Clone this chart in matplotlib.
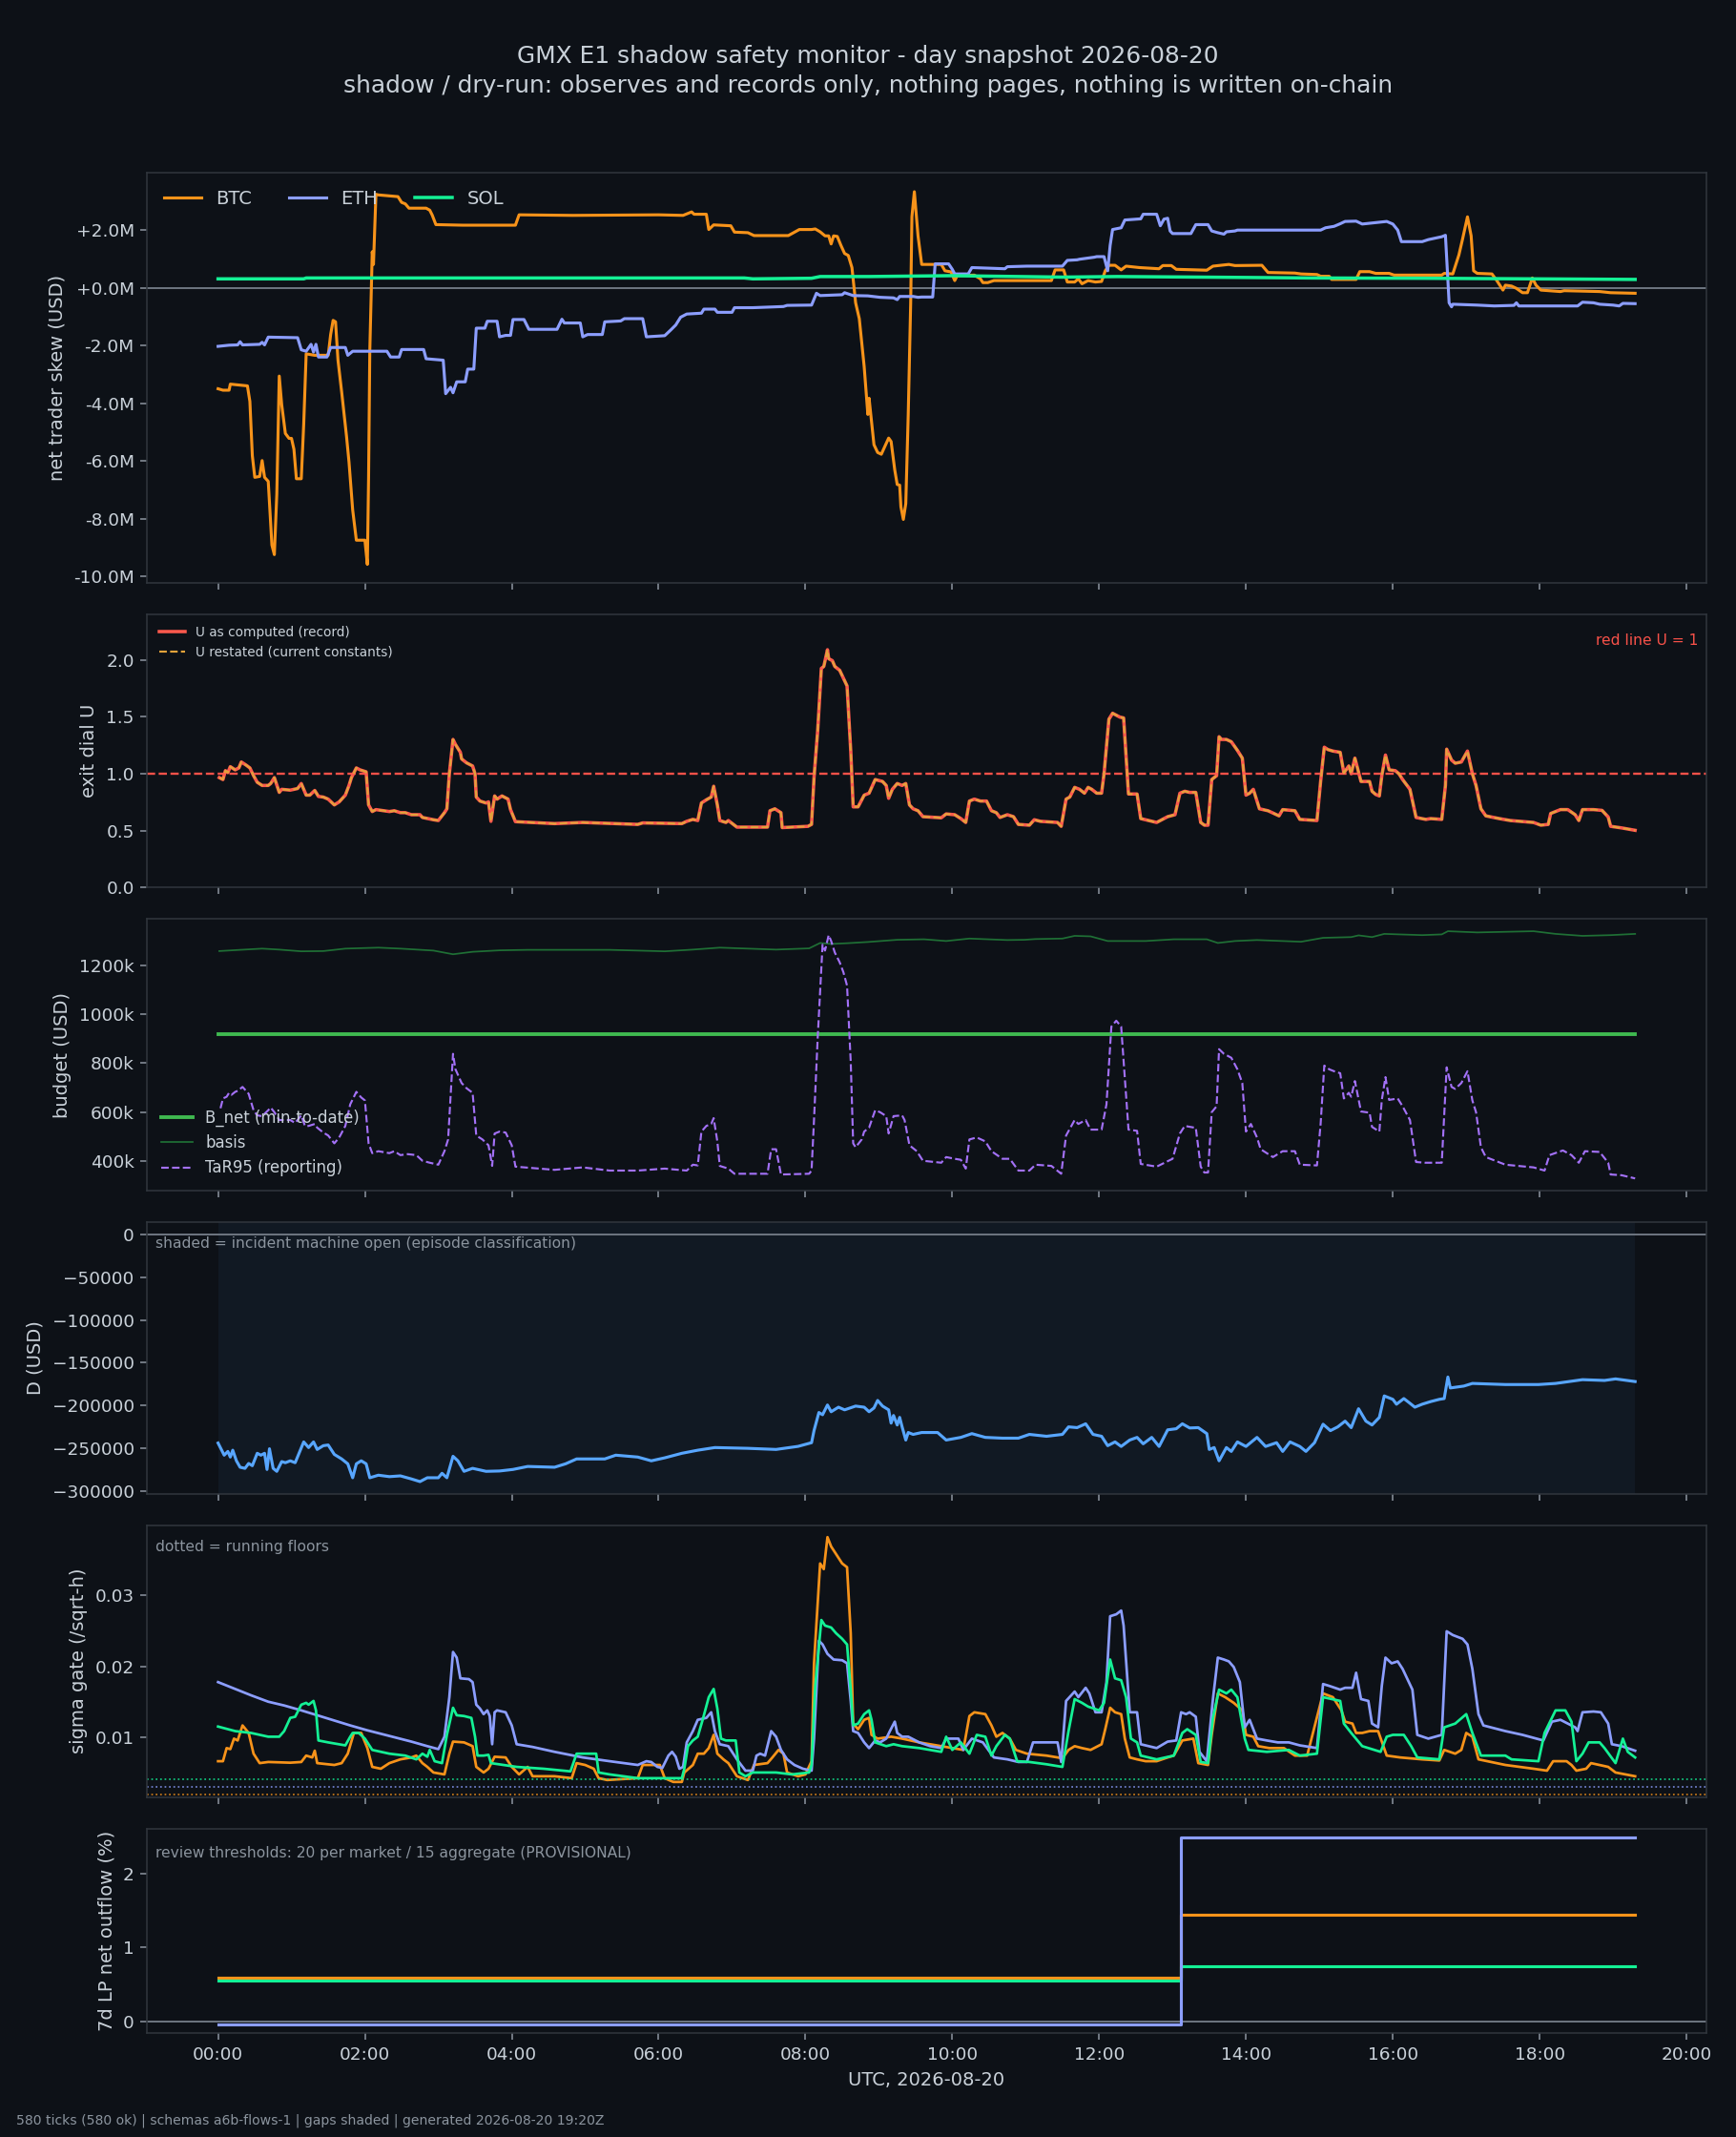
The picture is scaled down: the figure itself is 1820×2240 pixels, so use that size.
import matplotlib
matplotlib.use("Agg")
import matplotlib.pyplot as plt
from matplotlib.ticker import FuncFormatter, MultipleLocator

# colours (dark dashboard palette)
BG = "#0d1117"
FG = "#c9d1d9"
MUTED = "#8b949e"
EDGE = "#30363d"
C_BTC = "#f7931a"
C_ETH = "#8c9eff"
C_SOL = "#14f195"

# net trader skew, $M
skew_btc = [(0, -3.50), (4, -3.55), (9, -3.55), (10, -3.34), (24, -3.40), (26, -3.94), (28, -5.82), (30, -6.57),
            (34, -6.54), (36, -5.99), (38, -6.57), (41, -6.71), (44, -8.92), (46, -9.25), (48, -7.15), (50, -3.06),
            (52, -4.05), (55, -5.05), (58, -5.22), (60, -5.22), (62, -5.6), (64, -6.62), (68, -6.62), (70, -4.72),
            (72, -2.29), (79, -2.34), (90, -2.34), (92, -1.62), (94, -1.13), (96, -1.18), (98, -2.51), (101, -3.61),
            (105, -5.16), (107, -6.04), (110, -7.7), (113, -8.75), (120, -8.75), (122, -9.59), (123, -6.6),
            (124, -2.18), (126, 1.25), (127, 0.81), (129, 3.24), (131, 3.22), (147, 3.16), (150, 2.96), (153, 2.91),
            (156, 2.76), (170, 2.76), (173, 2.69), (175, 2.52), (178, 2.19), (200, 2.17), (243, 2.17), (246, 2.53),
            (290, 2.51), (360, 2.53), (380, 2.51), (387, 2.63), (389, 2.55), (399, 2.55), (401, 2.02), (405, 2.18),
            (419, 2.15), (422, 1.93), (433, 1.91), (438, 1.81), (466, 1.81), (469, 1.88), (475, 2.02), (485, 2.02),
            (488, 2.04), (492, 1.94), (496, 1.8), (499, 1.8), (501, 1.52), (503, 1.8), (506, 1.78), (509, 1.47),
            (512, 1.19), (515, 1.12), (518, 0.70), (521, -0.52), (524, -1.07), (528, -2.73), (531, -4.39),
            (532, -3.83), (536, -5.44), (539, -5.71), (542, -5.77), (545, -5.49), (548, -5.21), (550, -5.33),
            (553, -6.32), (555, -6.82), (557, -6.84), (558, -7.59), (560, -8.03), (562, -7.48), (564, -4.39),
            (566, -0.52), (567, 2.46), (569, 3.33), (572, 1.80), (575, 0.81), (591, 0.81), (594, 0.59), (599, 0.55),
            (602, 0.25), (604, 0.42), (618, 0.44), (623, 0.31), (625, 0.18), (629, 0.18), (634, 0.25), (681, 0.25),
            (684, 0.62), (691, 0.62), (694, 0.20), (700, 0.20), (703, 0.31), (706, 0.14), (711, 0.25), (717, 0.20),
            (722, 0.22), (725, 0.59), (728, 0.78), (733, 0.78), (738, 0.62), (742, 0.75), (753, 0.70), (769, 0.66),
            (772, 0.77), (779, 0.77), (783, 0.64), (808, 0.61), (813, 0.75), (826, 0.81), (831, 0.77), (853, 0.78),
            (858, 0.53), (880, 0.51), (885, 0.48), (898, 0.46), (901, 0.40), (908, 0.40), (910, 0.29), (930, 0.29),
            (933, 0.56), (941, 0.56), (946, 0.50), (957, 0.50), (961, 0.44), (1000, 0.44), (1002, 0.50),
            (1009, 0.48), (1014, 1.14), (1017, 1.69), (1021, 2.46), (1024, 1.80), (1026, 0.59), (1029, 0.50),
            (1041, 0.48), (1045, 0.25), (1050, -0.08), (1052, 0.09), (1057, 0.06), (1061, -0.02), (1066, -0.17),
            (1070, -0.17), (1074, 0.34), (1077, 0.09), (1081, -0.08), (1097, -0.13), (1100, -0.10), (1129, -0.13),
            (1138, -0.17), (1158, -0.19)]

skew_eth = [(0, -2.03), (9, -1.99), (16, -1.98), (18, -1.87), (20, -1.98), (34, -1.96), (36, -1.89), (38, -1.98),
            (41, -1.71), (65, -1.73), (68, -2.15), (72, -2.20), (76, -1.96), (78, -2.23), (80, -1.96), (82, -2.40),
            (89, -2.40), (92, -2.07), (104, -2.07), (106, -2.34), (110, -2.20), (138, -2.20), (141, -2.40),
            (148, -2.40), (150, -2.14), (168, -2.14), (170, -2.46), (178, -2.49), (184, -2.51), (186, -3.67),
            (190, -3.45), (192, -3.64), (195, -3.26), (202, -3.26), (204, -2.82), (209, -2.82), (211, -1.40),
            (218, -1.40), (220, -1.16), (228, -1.16), (230, -1.70), (235, -1.65), (239, -1.65), (241, -1.10),
            (250, -1.10), (254, -1.44), (277, -1.44), (281, -1.09), (283, -1.22), (296, -1.22), (298, -1.70),
            (302, -1.62), (314, -1.62), (316, -1.18), (329, -1.15), (332, -1.07), (347, -1.07), (350, -1.70),
            (365, -1.66), (370, -1.46), (374, -1.29), (378, -1.02), (383, -0.91), (395, -0.88), (397, -0.74),
            (406, -0.74), (408, -0.85), (420, -0.85), (422, -0.69), (437, -0.69), (462, -0.65), (465, -0.61),
            (485, -0.60), (489, -0.19), (492, -0.27), (510, -0.24), (512, -0.17), (519, -0.27), (531, -0.28),
            (541, -0.33), (552, -0.35), (555, -0.41), (557, -0.30), (568, -0.30), (572, -0.33), (575, -0.32),
            (584, -0.32), (586, 0.83), (597, 0.83), (600, 0.64), (602, 0.48), (613, 0.48), (616, 0.70), (643, 0.66),
            (645, 0.73), (661, 0.75), (690, 0.75), (694, 0.95), (702, 0.97), (704, 0.99), (716, 1.06), (718, 1.08),
            (724, 1.08), (727, 0.59), (729, 1.47), (731, 2.02), (738, 2.08), (741, 2.35), (754, 2.39), (756, 2.55),
            (767, 2.55), (770, 2.15), (773, 2.38), (776, 2.41), (778, 1.97), (780, 1.88), (795, 1.88), (799, 2.19),
            (809, 2.19), (812, 1.97), (817, 1.91), (822, 1.86), (824, 1.94), (831, 1.97), (833, 2.00), (901, 2.00),
            (905, 2.08), (912, 2.13), (917, 2.22), (921, 2.30), (930, 2.31), (935, 2.21), (955, 2.30), (960, 2.21),
            (964, 2.00), (967, 1.60), (984, 1.60), (989, 1.67), (1000, 1.77), (1003, 1.82), (1005, 0.25),
            (1006, -0.52), (1008, -0.66), (1009, -0.57), (1029, -0.60), (1043, -0.63), (1059, -0.61), (1061, -0.52),
            (1063, -0.63), (1111, -0.63), (1115, -0.50), (1124, -0.52), (1129, -0.57), (1140, -0.60), (1145, -0.63),
            (1148, -0.54), (1158, -0.55)]

skew_sol = [(0, 0.31), (70, 0.31), (72, 0.34), (430, 0.34), (437, 0.31), (485, 0.33), (492, 0.39), (532, 0.39),
            (600, 0.42), (690, 0.37), (735, 0.39), (803, 0.37), (894, 0.34), (984, 0.33), (1075, 0.31), (1158, 0.29)]

# exit dial U (record); the restated series coincides with it on this day
u_record = [(1, 0.966), (4, 0.949), (6, 1.027), (8, 1.010), (10, 1.062), (14, 1.034), (17, 1.051), (19, 1.103),
            (23, 1.075), (26, 1.051), (29, 0.983), (32, 0.925), (36, 0.897), (41, 0.897), (43, 0.914), (46, 0.966),
            (50, 0.836), (52, 0.863), (59, 0.856), (65, 0.870), (68, 0.914), (70, 0.863), (72, 0.812), (75, 0.812),
            (79, 0.853), (82, 0.801), (86, 0.795), (90, 0.777), (95, 0.726), (99, 0.753), (104, 0.812),
            (107, 0.897), (109, 0.966), (113, 1.051), (116, 1.034), (121, 1.017), (123, 0.726), (126, 0.668),
            (129, 0.685), (140, 0.668), (144, 0.675), (149, 0.658), (153, 0.658), (158, 0.640), (165, 0.640),
            (167, 0.616), (176, 0.596), (180, 0.589), (185, 0.658), (187, 0.692), (189, 1.0), (192, 1.301),
            (194, 1.257), (198, 1.188), (199, 1.130), (203, 1.096), (208, 1.068), (210, 1.0), (211, 0.795),
            (214, 0.760), (219, 0.743), (221, 0.753), (223, 0.582), (226, 0.805), (228, 0.777), (232, 0.805),
            (237, 0.777), (239, 0.685), (243, 0.579), (275, 0.562), (298, 0.572), (343, 0.555), (347, 0.568),
            (379, 0.562), (383, 0.582), (388, 0.599), (392, 0.589), (395, 0.743), (399, 0.771), (403, 0.795),
            (405, 0.890), (408, 0.726), (410, 0.589), (415, 0.572), (417, 0.589), (424, 0.531), (449, 0.531),
            (451, 0.675), (455, 0.692), (460, 0.658), (461, 0.527), (482, 0.538), (485, 0.555), (487, 0.966),
            (490, 1.377), (493, 1.925), (495, 1.942), (498, 2.089), (499, 2.010), (502, 1.993), (504, 1.942),
            (508, 1.908), (511, 1.839), (514, 1.771), (517, 1.205), (519, 0.709), (523, 0.709), (528, 0.812),
            (532, 0.829), (537, 0.949), (543, 0.932), (546, 0.897), (548, 0.784), (551, 0.863), (555, 0.914),
            (559, 0.897), (562, 0.914), (565, 0.726), (568, 0.692), (572, 0.675), (576, 0.623), (591, 0.613),
            (595, 0.647), (602, 0.640), (607, 0.606), (611, 0.572), (614, 0.760), (618, 0.777), (623, 0.760),
            (628, 0.760), (632, 0.675), (636, 0.658), (639, 0.616), (645, 0.640), (650, 0.623), (654, 0.555),
            (663, 0.548), (667, 0.596), (672, 0.582), (686, 0.572), (689, 0.538), (693, 0.777), (696, 0.795),
            (700, 0.880), (704, 0.863), (708, 0.829), (711, 0.880), (714, 0.863), (718, 0.829), (722, 0.829),
            (724, 1.0), (728, 1.479), (731, 1.531), (734, 1.514), (737, 1.497), (740, 1.490), (744, 0.822),
            (751, 0.822), (754, 0.606), (767, 0.572), (776, 0.623), (782, 0.640), (786, 0.829), (790, 0.846),
            (794, 0.836), (799, 0.836), (803, 0.572), (806, 0.548), (809, 0.548), (812, 0.949), (816, 0.983),
            (818, 1.325), (820, 1.301), (824, 1.301), (828, 1.281), (833, 1.205), (837, 1.137), (840, 0.812),
            (843, 0.829), (846, 0.863), (851, 0.692), (858, 0.675), (867, 0.630), (870, 0.685), (880, 0.675),
            (884, 0.599), (898, 0.589), (901, 0.932), (904, 1.233), (907, 1.212), (911, 1.199), (917, 1.188),
            (920, 1.007), (924, 1.068), (926, 1.0), (929, 1.137), (934, 0.932), (941, 0.932), (943, 0.846),
            (946, 0.818), (949, 0.805), (951, 0.983), (954, 1.164), (957, 1.034), (962, 1.027), (965, 1.0),
            (968, 0.949), (974, 0.863), (979, 0.616), (987, 0.599), (991, 0.606), (1000, 0.599), (1003, 0.897),
            (1004, 1.216), (1008, 1.120), (1011, 1.092), (1016, 1.103), (1021, 1.199), (1025, 1.0), (1028, 0.897),
            (1032, 0.692), (1036, 0.630), (1047, 0.606), (1056, 0.589), (1075, 0.572), (1081, 0.548), (1087, 0.555),
            (1089, 0.651), (1097, 0.685), (1103, 0.685), (1109, 0.640), (1112, 0.589), (1115, 0.685), (1124, 0.685),
            (1131, 0.678), (1136, 0.620), (1138, 0.538), (1147, 0.524), (1158, 0.503)]
u_restated = list(u_record)
u_red_line = 1.0

# budget panel, $k
b_net = [(0, 920), (1158, 920)]
basis = [(1, 1257), (18, 1262), (36, 1267), (50, 1263), (68, 1256), (86, 1257), (104, 1267), (131, 1271),
         (149, 1267), (176, 1259), (192, 1244), (208, 1254), (230, 1260), (253, 1262), (275, 1262), (320, 1262),
         (343, 1259), (365, 1256), (388, 1263), (410, 1271), (433, 1267), (456, 1263), (483, 1268), (492, 1290),
         (501, 1286), (514, 1289), (531, 1294), (555, 1303), (577, 1305), (595, 1298), (614, 1308), (645, 1302),
         (659, 1303), (668, 1306), (690, 1308), (700, 1319), (713, 1317), (727, 1298), (758, 1298), (781, 1305),
         (808, 1305), (817, 1290), (831, 1298), (849, 1302), (885, 1295), (903, 1311), (926, 1314), (932, 1321),
         (943, 1314), (953, 1327), (984, 1322), (1000, 1325), (1005, 1338), (1029, 1333), (1075, 1338),
         (1093, 1327), (1115, 1319), (1138, 1322), (1158, 1327)]
tar95 = [(2, 616), (4, 656), (7, 663), (9, 679), (11, 671), (14, 683), (16, 687), (20, 703), (25, 675), (29, 608),
         (32, 587), (36, 584), (41, 608), (43, 619), (46, 600), (50, 568), (59, 568), (63, 556), (68, 587),
         (71, 544), (74, 544), (79, 552), (81, 537), (86, 517), (90, 505), (95, 473), (99, 497), (104, 544),
         (108, 632), (113, 683), (117, 660), (120, 648), (123, 473), (126, 433), (131, 441), (140, 433), (144, 441),
         (149, 425), (155, 429), (162, 425), (167, 402), (173, 394), (180, 386), (185, 441), (188, 489), (192, 838),
         (194, 775), (199, 719), (203, 698), (208, 679), (211, 505), (216, 489), (221, 465), (224, 381), (226, 513),
         (230, 521), (235, 517), (240, 465), (243, 378), (275, 365), (298, 375), (320, 362), (343, 362), (365, 370),
         (383, 362), (388, 386), (392, 383), (395, 521), (399, 544), (403, 552), (405, 576), (408, 481), (410, 381),
         (417, 370), (422, 349), (449, 349), (452, 449), (456, 449), (460, 346), (483, 349), (485, 362), (487, 568),
         (490, 902), (494, 1283), (496, 1259), (499, 1322), (501, 1298), (504, 1251), (508, 1211), (511, 1171),
         (514, 1116), (517, 806), (519, 473), (521, 457), (526, 489), (528, 521), (532, 537), (537, 608),
         (541, 600), (546, 584), (548, 513), (552, 584), (559, 587), (561, 568), (565, 465), (571, 441), (576, 402),
         (591, 394), (595, 417), (602, 410), (607, 406), (611, 370), (614, 489), (620, 497), (627, 481), (632, 441),
         (641, 410), (647, 410), (654, 362), (663, 362), (668, 386), (681, 381), (689, 349), (693, 505), (700, 568),
         (703, 552), (709, 568), (713, 529), (722, 529), (726, 632), (730, 949), (734, 973), (738, 949), (744, 529),
         (751, 524), (754, 389), (767, 378), (780, 410), (786, 513), (790, 544), (799, 536), (803, 378), (806, 354),
         (809, 354), (812, 600), (816, 624), (818, 857), (822, 838), (828, 822), (833, 775), (837, 719), (840, 521),
         (844, 552), (849, 497), (852, 449), (862, 417), (870, 441), (880, 441), (884, 386), (898, 383), (901, 552),
         (904, 790), (908, 775), (912, 767), (917, 759), (920, 656), (924, 679), (926, 663), (929, 727), (934, 603),
         (941, 598), (943, 540), (949, 521), (951, 650), (954, 743), (957, 650), (964, 656), (968, 624), (974, 568),
         (979, 397), (986, 394), (1000, 394), (1004, 783), (1008, 703), (1011, 695), (1016, 719), (1021, 767),
         (1025, 648), (1028, 600), (1032, 457), (1036, 417), (1052, 386), (1075, 375), (1084, 362), (1088, 425),
         (1099, 444), (1106, 425), (1112, 394), (1117, 441), (1129, 438), (1136, 394), (1138, 346), (1147, 343),
         (1158, 330)]

# D, $k
d_usd = [(0, -244.0), (5, -258.2), (8, -253.8), (10, -260.4), (12, -252.4), (15, -264.8), (18, -272.3),
         (22, -273.6), (25, -267.9), (28, -270.5), (32, -256.0), (35, -258.2), (38, -256.0), (40, -274.9),
         (42, -250.7), (45, -273.6), (48, -277.1), (52, -265.7), (55, -267.0), (59, -264.8), (63, -267.0),
         (70, -242.7), (74, -249.3), (78, -242.7), (81, -251.5), (86, -247.1), (90, -246.3), (95, -257.3),
         (101, -262.6), (106, -268.3), (110, -284.6), (113, -268.3), (117, -264.8), (121, -268.3), (124, -284.6),
         (131, -281.6), (140, -283.3), (149, -282.4), (158, -286.0), (165, -289.1), (171, -284.6), (180, -284.6),
         (183, -279.4), (187, -284.6), (192, -259.5), (196, -264.8), (201, -277.1), (208, -273.6), (219, -277.1),
         (230, -276.7), (241, -274.9), (253, -271.4), (275, -272.3), (284, -268.3), (293, -262.6), (316, -262.6),
         (325, -258.2), (343, -260.4), (354, -264.8), (365, -261.3), (379, -256.0), (392, -252.4), (406, -249.3),
         (433, -250.2), (456, -251.5), (474, -247.9), (485, -243.6), (487, -229.5), (491, -208.3), (494, -210.9),
         (498, -199.5), (501, -207.4), (507, -202.1), (512, -205.2), (521, -200.8), (528, -202.1), (532, -207.4),
         (536, -203.0), (539, -194.2), (543, -200.8), (548, -205.2), (550, -220.7), (552, -211.8), (555, -222.9),
         (557, -214.0), (559, -225.1), (562, -240.5), (564, -231.7), (568, -233.9), (575, -231.7), (588, -231.7),
         (595, -240.5), (607, -237.4), (616, -233.0), (627, -237.4), (641, -238.3), (654, -238.3), (663, -233.9),
         (677, -236.1), (690, -233.9), (695, -225.1), (702, -226.0), (709, -221.5), (715, -233.9), (722, -236.1),
         (727, -247.1), (733, -242.7), (738, -248.0), (745, -240.5), (751, -237.4), (756, -244.9), (763, -237.4),
         (769, -248.0), (776, -228.6), (783, -227.3), (788, -221.5), (794, -226.4), (801, -226.0), (808, -233.0),
         (810, -251.5), (814, -249.3), (818, -264.8), (824, -249.3), (828, -253.8), (833, -242.7), (840, -248.0),
         (849, -237.4), (856, -248.0), (865, -243.6), (870, -253.8), (876, -242.7), (884, -248.0), (889, -253.8),
         (896, -243.6), (903, -222.0), (909, -229.5), (915, -225.1), (921, -218.4), (926, -226.0), (932, -203.9),
         (938, -218.4), (943, -222.9), (949, -214.0), (953, -188.9), (960, -192.9), (963, -198.6), (969, -192.0),
         (973, -196.4), (978, -202.1), (984, -198.6), (991, -195.5), (998, -192.9), (1002, -192.0), (1005, -166.8),
         (1007, -179.6), (1018, -177.4), (1025, -174.3), (1052, -175.6), (1079, -175.6), (1093, -174.3),
         (1115, -169.9), (1133, -170.8), (1142, -169.0), (1158, -172.1)]
incident_open = (0, 1158)

# sigma gate, in units of 1e-3 /sqrt-h
sig_btc = [(0, 6.66), (4, 6.66), (7, 8.51), (10, 8.36), (13, 9.84), (16, 9.58), (20, 11.70), (25, 10.64), (29, 7.72),
           (34, 6.39), (41, 6.55), (59, 6.45), (68, 6.55), (72, 7.45), (77, 7.19), (79, 8.14), (81, 6.39), (95, 6.13),
           (101, 6.39), (106, 7.72), (111, 10.64), (117, 10.64), (122, 8.51), (126, 5.86), (133, 5.60), (140, 6.39),
           (149, 6.92), (158, 7.19), (162, 7.45), (167, 6.39), (171, 5.86), (176, 5.07), (185, 4.80), (189, 7.72),
           (192, 9.42), (201, 9.31), (208, 8.78), (211, 5.86), (217, 5.07), (221, 5.60), (226, 7.29), (235, 7.19),
           (240, 5.86), (246, 4.80), (253, 5.86), (257, 4.54), (275, 4.54), (289, 4.27), (293, 6.39), (300, 6.13),
           (307, 5.60), (311, 4.27), (318, 4.01), (343, 4.27), (347, 6.13), (361, 6.13), (365, 4.27), (372, 3.74),
           (379, 3.74), (381, 5.07), (388, 6.13), (392, 7.72), (397, 7.72), (401, 8.51), (405, 10.37), (408, 7.72),
           (413, 6.92), (417, 6.39), (424, 4.54), (433, 4.01), (438, 6.13), (449, 6.39), (453, 7.19), (458, 8.25),
           (462, 7.72), (465, 5.07), (474, 4.54), (480, 4.80), (485, 6.66), (487, 20.45), (492, 34.51),
           (495, 33.71), (498, 38.22), (501, 36.90), (505, 35.84), (510, 34.51), (514, 33.98), (517, 24.69),
           (519, 11.96), (523, 11.17), (528, 12.49), (532, 12.76), (534, 10.37), (539, 9.84), (550, 10.11),
           (559, 9.84), (573, 9.31), (591, 8.78), (600, 8.51), (609, 8.25), (614, 13.02), (618, 13.55), (627, 13.29),
           (632, 11.70), (636, 10.11), (641, 10.64), (647, 9.84), (652, 8.25), (661, 7.72), (677, 7.45), (690, 7.08),
           (695, 8.25), (700, 8.78), (706, 8.51), (713, 8.25), (722, 9.05), (725, 11.17), (729, 14.19), (733, 13.55),
           (738, 13.29), (741, 9.84), (745, 7.19), (751, 6.92), (758, 6.66), (767, 6.66), (776, 7.19), (781, 7.45),
           (788, 9.58), (797, 9.84), (801, 6.39), (809, 6.13), (812, 10.37), (817, 16.21), (823, 15.68),
           (830, 14.88), (837, 13.82), (840, 10.37), (846, 10.11), (850, 8.78), (859, 8.51), (871, 8.51), (880, 7.45),
           (890, 7.45), (903, 16.21), (911, 15.68), (918, 13.82), (921, 12.23), (927, 11.96), (930, 10.64),
           (935, 10.64), (941, 10.90), (948, 10.90), (955, 7.45), (966, 7.19), (984, 6.92), (998, 6.76), (1002, 8.25),
           (1007, 7.96), (1011, 7.72), (1016, 8.25), (1020, 10.64), (1025, 10.11), (1030, 6.92), (1052, 6.13),
           (1075, 5.60), (1086, 5.33), (1091, 6.66), (1102, 6.66), (1106, 6.13), (1110, 5.33), (1118, 5.60),
           (1122, 6.39), (1129, 6.13), (1136, 5.86), (1142, 5.07), (1158, 4.54)]

sig_eth = [(0, 17.8), (14, 16.84), (27, 15.94), (41, 15.04), (54, 14.51), (68, 13.82), (81, 13.13), (95, 12.39),
           (108, 11.70), (122, 11.01), (140, 10.21), (158, 9.42), (171, 8.78), (180, 8.36), (185, 10.11),
           (189, 15.68), (192, 22.04), (195, 21.25), (198, 18.33), (205, 18.22), (208, 17.80), (211, 14.62),
           (214, 14.08), (217, 13.29), (220, 13.82), (222, 13.02), (224, 9.05), (226, 13.55), (228, 13.82),
           (235, 13.55), (240, 11.70), (244, 9.05), (257, 8.67), (275, 7.98), (298, 7.19), (320, 6.66), (343, 6.13),
           (350, 6.66), (354, 6.55), (359, 5.86), (363, 5.70), (368, 7.45), (371, 7.98), (374, 7.29), (377, 5.60),
           (380, 5.86), (383, 9.31), (388, 10.90), (392, 12.49), (399, 12.76), (403, 13.55), (406, 10.90),
           (410, 9.05), (417, 8.78), (424, 6.92), (431, 5.33), (437, 5.33), (440, 7.45), (443, 7.72), (447, 7.45),
           (452, 10.90), (456, 10.11), (460, 8.25), (465, 6.92), (471, 6.13), (478, 5.60), (485, 5.33), (487, 9.84),
           (491, 23.63), (494, 23.10), (498, 21.78), (503, 20.98), (510, 20.88), (514, 20.45), (517, 15.15),
           (519, 10.90), (523, 10.64), (528, 9.31), (532, 8.51), (537, 9.58), (541, 9.31), (546, 9.84), (549, 10.90),
           (553, 12.23), (555, 10.64), (559, 10.11), (564, 10.11), (573, 9.31), (582, 8.78), (591, 8.51),
           (595, 9.84), (605, 9.84), (609, 8.25), (616, 9.84), (625, 9.31), (634, 7.19), (645, 6.92), (654, 6.55),
           (661, 6.55), (666, 9.31), (686, 9.31), (689, 6.55), (693, 15.15), (700, 16.47), (703, 15.68),
           (709, 17.00), (712, 16.21), (717, 13.55), (722, 13.55), (726, 17.80), (729, 27.08), (734, 27.35),
           (738, 27.88), (740, 25.76), (745, 13.55), (751, 13.55), (754, 9.05), (767, 8.51), (776, 9.42),
           (783, 9.58), (787, 13.55), (791, 13.29), (794, 13.55), (799, 12.92), (802, 7.98), (808, 6.66),
           (813, 15.41), (817, 21.25), (822, 20.98), (826, 20.72), (830, 19.92), (835, 17.80), (839, 11.43),
           (843, 12.49), (849, 9.84), (857, 9.58), (866, 9.31), (875, 9.31), (884, 8.89), (898, 8.51), (903, 17.53),
           (908, 17.27), (917, 16.74), (921, 17.00), (927, 17.00), (930, 19.12), (934, 15.41), (940, 15.15),
           (943, 11.96), (948, 11.43), (951, 17.27), (954, 21.25), (959, 20.45), (964, 20.72), (968, 19.66),
           (976, 16.74), (980, 10.37), (989, 9.84), (1000, 10.37), (1004, 24.96), (1009, 24.43), (1017, 23.90),
           (1021, 23.10), (1025, 19.66), (1030, 13.29), (1034, 11.70), (1052, 10.90), (1066, 10.37), (1083, 9.58),
           (1090, 12.23), (1097, 12.49), (1103, 11.96), (1109, 11.43), (1111, 10.90), (1115, 13.55), (1124, 13.66),
           (1130, 13.55), (1136, 11.96), (1139, 9.05), (1147, 8.78), (1158, 8.14)]

sig_sol = [(0, 11.54), (14, 10.90), (27, 10.64), (41, 10.11), (50, 10.11), (54, 10.90), (59, 12.76), (63, 12.92),
           (68, 14.62), (72, 14.88), (74, 14.62), (78, 15.15), (80, 13.82), (82, 9.58), (90, 9.31), (104, 8.89),
           (108, 10.11), (110, 10.64), (115, 10.64), (120, 9.84), (126, 8.25), (140, 7.72), (153, 7.45), (162, 6.92),
           (167, 7.72), (171, 7.29), (173, 8.25), (177, 6.66), (183, 6.39), (187, 10.37), (192, 14.19), (195, 13.13),
           (201, 13.02), (207, 12.76), (210, 10.11), (212, 7.45), (217, 7.45), (221, 7.56), (223, 6.39), (244, 5.86),
           (266, 5.60), (288, 5.23), (293, 7.72), (309, 7.72), (311, 5.07), (320, 4.80), (343, 4.27), (379, 4.27),
           (381, 5.60), (384, 8.78), (388, 9.58), (392, 10.11), (396, 12.49), (401, 15.68), (405, 16.84),
           (408, 14.08), (411, 9.84), (415, 9.58), (423, 9.58), (426, 5.07), (431, 4.54), (437, 5.07), (456, 5.07),
           (469, 4.80), (483, 5.07), (485, 6.13), (488, 17.27), (493, 26.55), (496, 25.76), (501, 25.49),
           (505, 24.69), (510, 23.90), (514, 23.10), (517, 16.74), (519, 11.70), (523, 11.96), (528, 13.29),
           (532, 13.82), (534, 12.49), (537, 9.31), (546, 8.78), (552, 9.05), (559, 8.78), (573, 8.51), (591, 7.98),
           (595, 10.11), (600, 8.25), (607, 9.31), (614, 7.72), (620, 10.37), (627, 10.11), (632, 7.45), (636, 8.78),
           (643, 10.37), (647, 9.84), (653, 6.66), (663, 6.55), (677, 6.23), (690, 5.86), (695, 10.90), (700, 15.41),
           (706, 14.88), (711, 14.35), (720, 13.82), (724, 14.88), (729, 20.98), (733, 18.33), (738, 18.06),
           (742, 15.68), (746, 9.84), (751, 9.31), (754, 7.45), (767, 6.92), (781, 7.45), (788, 10.64), (792, 11.17),
           (799, 10.37), (803, 6.55), (809, 6.39), (813, 12.76), (818, 16.74), (824, 16.21), (828, 16.74),
           (833, 15.68), (839, 9.84), (842, 8.25), (857, 7.98), (875, 8.25), (884, 7.45), (898, 7.72), (903, 15.68),
           (910, 15.41), (917, 15.15), (920, 11.96), (926, 10.64), (935, 8.78), (950, 7.98), (955, 10.11),
           (960, 10.37), (969, 10.37), (975, 8.78), (980, 7.19), (998, 6.92), (1002, 11.43), (1011, 11.96),
           (1020, 13.29), (1025, 10.64), (1032, 7.45), (1052, 7.45), (1057, 6.92), (1079, 6.66), (1084, 10.64),
           (1093, 13.82), (1101, 13.82), (1106, 12.23), (1110, 6.66), (1115, 7.72), (1120, 9.31), (1129, 9.31),
           (1133, 8.51), (1142, 6.39), (1148, 9.84), (1152, 7.98), (1158, 7.19)]

# running floors (1e-3 /sqrt-h)
floor_btc = 2.0
floor_eth = 3.05
floor_sol = 4.11

# 7d LP net outflow, %
lp_t = [0, 787, 1158]
lp_btc = [0.59, 1.44, 1.44]
lp_eth = [-0.04, 2.49, 2.49]
lp_sol = [0.55, 0.745, 0.745]

title = ("GMX E1 shadow safety monitor - day snapshot 2026-08-20\n"
         "shadow / dry-run: observes and records only, nothing pages, nothing is written on-chain")
footer = "580 ticks (580 ok) | schemas a6b-flows-1 | gaps shaded | generated 2026-08-20 19:20Z"


def hv(pairs, scale=1.0):
    # minutes -> hours on the x axis
    return [p[0] / 60 for p in pairs], [p[1] * scale for p in pairs]


plt.rcParams.update({
    "figure.facecolor": BG, "axes.facecolor": BG, "savefig.facecolor": BG,
    "axes.edgecolor": EDGE, "axes.labelcolor": FG, "text.color": FG,
    "xtick.color": MUTED, "ytick.color": MUTED,
    "xtick.labelcolor": FG, "ytick.labelcolor": FG,
    "xtick.labelsize": 9.5, "ytick.labelsize": 9.5,
    "axes.labelsize": 10, "legend.frameon": False,
})

fig = plt.figure(figsize=(13, 16), dpi=140)
gs = fig.add_gridspec(6, 1, height_ratios=[300, 200, 199, 199, 199, 150],
                      left=0.0848, right=0.9827, top=0.919, bottom=0.0485, hspace=0.11)
axes = [fig.add_subplot(gs[0])]
for i in range(1, 6):
    axes.append(fig.add_subplot(gs[i], sharex=axes[0]))
ax1, ax2, ax3, ax4, ax5, ax6 = axes

# 1. skew
ax1.axhline(0, color="#6e7681", lw=1)
ax1.plot(*hv(skew_btc), color=C_BTC, lw=1.6, label="BTC")
ax1.plot(*hv(skew_eth), color=C_ETH, lw=1.6, label="ETH")
ax1.plot(*hv(skew_sol), color=C_SOL, lw=1.8, label="SOL")
ax1.yaxis.set_major_locator(MultipleLocator(2))
ax1.yaxis.set_major_formatter(FuncFormatter(lambda v, _: f"{v:+.1f}M"))
ax1.set_ylabel("net trader skew (USD)")
ax1.legend(loc="upper left", ncol=3, fontsize=10, labelcolor=FG)

# 2. exit dial
ax2.axhline(u_red_line, color="#f85149", lw=1.2, ls="--")
ax2.plot(*hv(u_record), color="#ff5a4d", lw=1.8, label="U as computed (record)")
ax2.plot(*hv(u_restated), color="#e3a33b", lw=1.1, ls="--", label="U restated (current constants)")
ax2.set_ylim(0, 2.4)
ax2.set_ylabel("exit dial U")
ax2.legend(loc="upper left", fontsize=7, labelcolor=FG)
ax2.text(0.995, 0.905, "red line U = 1", transform=ax2.transAxes, ha="right", va="center",
         fontsize=8, color="#f85149")

# 3. budget
ax3.plot(*hv(b_net), color="#3fb950", lw=2.0, label="B_net (min-to-date)")
ax3.plot(*hv(basis), color="#1f6f35", lw=0.9, label="basis")
ax3.plot(*hv(tar95), color="#a371f7", lw=1.1, ls="--", label="TaR95 (reporting)")
ax3.yaxis.set_major_locator(MultipleLocator(200))
ax3.yaxis.set_major_formatter(FuncFormatter(lambda v, _: f"{v:.0f}k"))
ax3.set_ylabel("budget (USD)")
ax3.legend(loc="lower left", fontsize=8.5, labelcolor=FG)

# 4. D
ax4.axvspan(incident_open[0] / 60, incident_open[1] / 60, color="#58a6ff", alpha=0.055, lw=0)
ax4.axhline(0, color="#6e7681", lw=1)
ax4.plot(*hv(d_usd, 1000), color="#58a6ff", lw=1.6)
ax4.set_ylabel("D (USD)")
ax4.text(0.005, 0.92, "shaded = incident machine open (episode classification)", transform=ax4.transAxes,
         ha="left", va="center", fontsize=8, color=MUTED)

# 5. sigma gate
ax5.plot(*hv(sig_btc, 1e-3), color=C_BTC, lw=1.4)
ax5.plot(*hv(sig_eth, 1e-3), color=C_ETH, lw=1.4)
ax5.plot(*hv(sig_sol, 1e-3), color=C_SOL, lw=1.4)
ax5.axhline(floor_sol * 1e-3, color=C_SOL, lw=0.9, ls=":", alpha=0.8)
ax5.axhline(floor_eth * 1e-3, color=C_ETH, lw=0.9, ls=":", alpha=0.8)
ax5.axhline(floor_btc * 1e-3, color=C_BTC, lw=0.9, ls=":", alpha=0.8)
ax5.set_ylim(0.0016, 0.0399)
ax5.set_ylabel("sigma gate (/sqrt-h)")
ax5.text(0.005, 0.92, "dotted = running floors", transform=ax5.transAxes,
         ha="left", va="center", fontsize=8, color=MUTED)

# 6. LP outflow
lp_h = [t / 60 for t in lp_t]
ax6.axhline(0, color="#6e7681", lw=1)
ax6.plot(lp_h, lp_btc, color=C_BTC, lw=1.6, drawstyle="steps-post")
ax6.plot(lp_h, lp_sol, color=C_SOL, lw=1.6, drawstyle="steps-post")
ax6.plot(lp_h, lp_eth, color=C_ETH, lw=1.6, drawstyle="steps-post")
ax6.set_ylabel("7d LP net outflow (%)")
ax6.text(0.005, 0.88, "review thresholds: 20 per market / 15 aggregate (PROVISIONAL)", transform=ax6.transAxes,
         ha="left", va="center", fontsize=8, color=MUTED)

ax6.xaxis.set_major_locator(MultipleLocator(2))
ax6.xaxis.set_major_formatter(FuncFormatter(lambda h, _: f"{int(round(h)):02d}:00"))
ax6.set_xlabel("UTC, 2026-08-20")

for ax in axes:
    ax.tick_params(length=3.5, width=0.8)
    for s in ax.spines.values():
        s.set_color(EDGE)
    if ax is not ax6:
        ax.tick_params(labelbottom=False)

fig.suptitle(title, fontsize=12.8, color=FG, y=0.979, linespacing=1.36)
fig.text(0.0095, 0.006, footer, fontsize=7.2, color=MUTED)

fig.savefig("out.png", dpi=140, facecolor=BG)
